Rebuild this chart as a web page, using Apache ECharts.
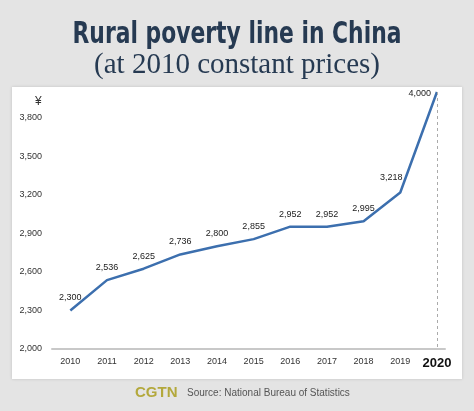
<!DOCTYPE html>
<html><head><meta charset="utf-8">
<script src="https://cdn.jsdelivr.net/npm/echarts@6/dist/echarts.min.js"></script>
<style>html,body{margin:0;padding:0;background:#e4e4e4}#c{width:474px;height:411px}</style>
</head><body><div id="c"></div>
<script>
const years = [2010, 2011, 2012, 2013, 2014, 2015, 2016, 2017, 2018, 2019, 2020];
const povertyLine = [2300, 2536, 2625, 2736, 2800, 2855, 2952, 2952, 2995, 3218, 4000];
const yTicks = [2000, 2300, 2600, 2900, 3200, 3500, 3800];
const titleText = 'Rural poverty line in China';
const subtitleText = '(at 2010 constant prices)';
const sourceText = 'Source: National Bureau of Statistics';

function fmt(v) { return String(v).replace(/\B(?=(\d{3})+(?!\d))/g, ','); }

const chart = echarts.init(document.getElementById('c'), null, {renderer: 'canvas'});
const lastIdx = years.length - 1;
const seriesData = years.map((y, i) => {
  const item = {value: [y, povertyLine[i]]};
  if (i === lastIdx) item.label = {position: 'left', offset: [2, 2]};
  if (i === lastIdx - 1) item.label = {position: 'top', offset: [-9, -2]};
  return item;
});

chart.setOption({
  backgroundColor: '#e4e4e4',
  animation: false,
  graphic: [
    {type: 'rect', z: -10, shape: {x: 12, y: 87, width: 450, height: 292},
     style: {fill: '#ffffff', shadowBlur: 3, shadowColor: 'rgba(0,0,0,0.15)'}},
    {type: 'text', z: 10, x: 237, y: 20, scaleX: 0.81,
     style: {text: titleText, font: 'bold 30px "DejaVu Sans Condensed", "DejaVu Sans", sans-serif', fill: '#263a52', align: 'center'}},
    {type: 'text', z: 10, x: 237, y: 51,
     style: {text: subtitleText, font: '29px "Liberation Serif", serif', fill: '#263a52', align: 'center'}},
    {type: 'text', z: 10, left: 35, top: 96, style: {text: '¥', font: '12px "Liberation Sans"', fill: '#333'}},
    {type: 'text', z: 10, left: 135, top: 385, style: {text: 'CGTN', font: 'bold 15px "Liberation Sans"', fill: '#b3a83c'}},
    {type: 'text', z: 10, left: 187, top: 388, style: {text: sourceText, font: '10px "Liberation Sans"', fill: '#555'}}
  ],
  grid: {left: 52, right: 29, top: 92, bottom: 62},
  xAxis: {
    type: 'value', min: 2009.5, max: 2020.22,
    axisLine: {show: true, onZero: false, lineStyle: {color: '#c8c8c8', width: 2}},
    axisTick: {show: false},
    splitLine: {show: false},
    axisLabel: {
      customValues: years, margin: 8,
      fontFamily: 'Liberation Sans', fontSize: 9, color: '#333',
      formatter: v => v === years[lastIdx] ? '{b|' + v + '}' : String(v),
      rich: {b: {fontFamily: 'Liberation Sans', fontWeight: 'bold', fontSize: 13, color: '#111'}}
    }
  },
  yAxis: {
    type: 'value', min: yTicks[0], max: 4000,
    axisLine: {show: false}, axisTick: {show: false}, splitLine: {show: false},
    axisLabel: {customValues: yTicks, margin: 10, fontFamily: 'Liberation Sans', fontSize: 9, color: '#333',
      formatter: v => fmt(v)}
  },
  series: [{
    type: 'line', data: seriesData, showSymbol: true, symbol: 'circle', symbolSize: 2,
    itemStyle: {color: 'rgba(0,0,0,0)', borderWidth: 0},
    lineStyle: {color: '#3c6fae', width: 2.5},
    label: {show: true, position: 'top', distance: 7, fontFamily: 'Liberation Sans', fontSize: 9, color: '#222',
      formatter: p => fmt(p.value[1])},
    markLine: {
      silent: true, symbol: 'none', label: {show: false},
      lineStyle: {color: '#aaa', type: [3, 3], width: 1},
      data: [[{coord: [years[lastIdx], povertyLine[lastIdx]]}, {coord: [years[lastIdx], yTicks[0]]}]]
    }
  }]
});
</script></body></html>
